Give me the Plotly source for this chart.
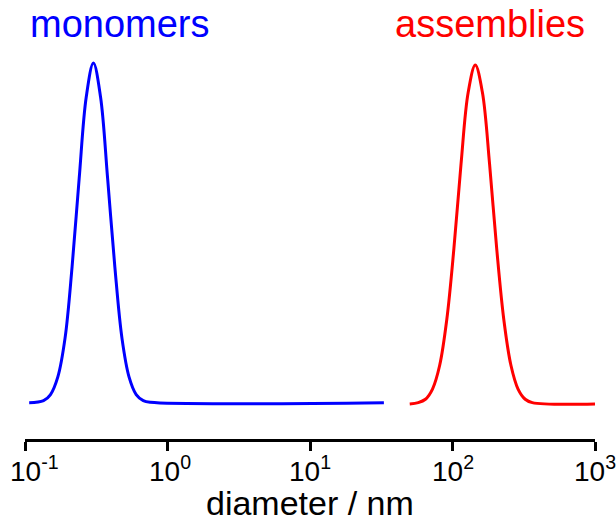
import math
import plotly.graph_objects as go

# Monomers size distribution (diameter in nm, relative intensity)
mono_d = [0.107, 0.135, 0.151, 0.170, 0.191, 0.214, 0.240, 0.269, 0.302,
          0.339, 0.380, 0.427, 0.479, 0.537, 0.603, 0.676, 0.759, 33.0]
mono_i = [0.0, 0.006, 0.024, 0.076, 0.19, 0.40, 0.66, 0.90, 1.00,
          0.90, 0.66, 0.40, 0.19, 0.076, 0.024, 0.006, 0.001, 0.0]

# Assemblies size distribution
asm_d = [50.1, 57.5, 64.6, 72.4, 81.3, 91.2, 102.3, 114.8, 128.8, 144.5,
         162.2, 182.0, 204.2, 229.1, 257.0, 288.4, 323.6, 363.1, 1000.0]
asm_i = [-0.004, 0.000, 0.010, 0.040, 0.110, 0.245, 0.454, 0.703, 0.913, 0.994,
         0.913, 0.703, 0.454, 0.245, 0.110, 0.040, 0.010, 0.000, -0.004]

tick_vals = [0.1, 1, 10, 100, 1000]
tick_text = ["10<sup>-1</sup>", "10<sup>0</sup>", "10<sup>1</sup>",
             "10<sup>2</sup>", "10<sup>3</sup>"]

FONT = "Liberation Sans, Arial, sans-serif"
LABEL_XSHIFT = [9, 2, 0, 0, 0]  # pixel nudges of tick labels as in the original

fig = go.Figure()
fig.add_trace(go.Scatter(x=mono_d, y=mono_i, mode="lines",
                         line=dict(color="#0000ff", width=3, shape="spline", smoothing=1),
                         showlegend=False, hoverinfo="skip"))
fig.add_trace(go.Scatter(x=asm_d, y=asm_i, mode="lines",
                         line=dict(color="#ff0000", width=3, shape="spline", smoothing=1),
                         showlegend=False, hoverinfo="skip"))

annotations = [
    dict(text="monomers", x=0.166, y=0.99, xref="paper", yref="paper",
         showarrow=False, xanchor="center", yanchor="middle",
         font=dict(size=38, color="#0000ff", family=FONT)),
    dict(text="assemblies", x=0.816, y=0.99, xref="paper", yref="paper",
         showarrow=False, xanchor="center", yanchor="middle",
         font=dict(size=38, color="#ff0000", family=FONT)),
    dict(text="diameter / nm", x=0.5, y=-0.153, xref="paper", yref="paper",
         showarrow=False, xanchor="center", yanchor="middle",
         font=dict(size=34, color="black", family=FONT)),
]
# tick labels drawn as annotations so the last one is not clipped
for v, t, dx in zip(tick_vals, tick_text, LABEL_XSHIFT):
    annotations.append(dict(text=t, x=math.log10(v), y=-0.0716, xref="x", yref="paper",
                            xshift=dx, showarrow=False, xanchor="center", yanchor="middle",
                            font=dict(size=28, color="black", family=FONT)))

fig.update_layout(
    width=616, height=529,
    margin=dict(l=25, r=21, t=20, b=90, autoexpand=False),
    paper_bgcolor="white", plot_bgcolor="white",
    font=dict(family=FONT, color="black"),
    xaxis=dict(type="log", range=[-1, 3], automargin=False,
               tickvals=tick_vals, showticklabels=False,
               ticks="outside", ticklen=9, tickwidth=3, tickcolor="black",
               showline=True, linewidth=3, linecolor="black",
               showgrid=False, zeroline=False),
    yaxis=dict(range=[-0.107, 1.1266], visible=False, showgrid=False, zeroline=False,
               automargin=False),
    annotations=annotations,
)

fig.write_html("out.html")
